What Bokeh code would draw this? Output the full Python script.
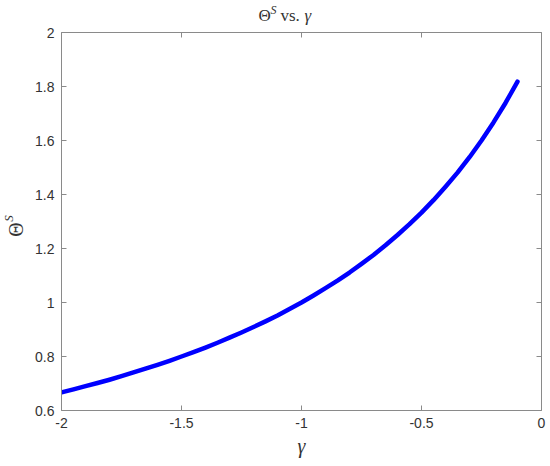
from bokeh.plotting import figure
from bokeh.layouts import column, row
from bokeh.models import LinearAxis, FixedTicker, Label, Range1d
from bokeh.embed import file_html
from bokeh.resources import INLINE

# values
gamma = [-2.0, -1.95, -1.9, -1.85, -1.8, -1.75, -1.7, -1.65, -1.6, -1.55,
         -1.5, -1.45, -1.4, -1.35, -1.3, -1.25, -1.2, -1.15, -1.1, -1.05,
         -1.0, -0.95, -0.9, -0.85, -0.8, -0.75, -0.7, -0.65, -0.6, -0.55,
         -0.5, -0.45, -0.4, -0.35, -0.3, -0.25, -0.2, -0.15, -0.1]
theta_s = [0.667, 0.678, 0.690, 0.702, 0.714, 0.727, 0.741, 0.755, 0.769, 0.784,
           0.800, 0.816, 0.833, 0.851, 0.870, 0.889, 0.909, 0.930, 0.952, 0.976,
           1.000, 1.026, 1.053, 1.081, 1.111, 1.143, 1.176, 1.212, 1.250, 1.290,
           1.333, 1.379, 1.429, 1.481, 1.538, 1.600, 1.667, 1.739, 1.818]

x_ticks = [-2, -1.5, -1, -0.5, 0]
x_tick_labels = ['-2', '-1.5', '-1', '-0.5', '0']
y_ticks = [0.6, 0.8, 1.0, 1.2, 1.4, 1.6, 1.8, 2.0]
y_tick_labels = ['0.6', '0.8', '1', '1.2', '1.4', '1.6', '1.8', '2']

axis_color = '#8a8a8a'
text_color = '#333333'
serif = 'Liberation Serif'

W, H = 550, 466
TITLE_H = 25
YLAB_W = 28

def blank_fig(w, h):
    f = figure(width=w, height=h, output_backend='svg', toolbar_location=None,
               x_range=Range1d(0, w), y_range=Range1d(0, h),
               x_axis_type=None, y_axis_type=None, min_border=0)
    f.grid.visible = False
    f.outline_line_color = None
    f.title.visible = False
    return f

def lab(f, text, x, y, size, style='normal', angle=0, align='left', base='alphabetic'):
    f.add_layout(Label(x=x, y=y, text=text, text_font=serif, text_font_size=size,
                       text_font_style=style, text_color=text_color, angle=angle,
                       text_align=align, text_baseline=base, text_line_height=1.0))

# title strip: Theta^S vs. gamma
title_fig = blank_fig(W, TITLE_H)
lab(title_fig, 'Θ', 258, 10, '17px')
lab(title_fig, 'S', 270, 16, '12px', style='italic')
lab(title_fig, 'vs.', 280, 10, '17px')
lab(title_fig, 'γ', 304, 10, '17px', style='italic')

# y label strip, rotated
main_h = H - TITLE_H
ylab_fig = blank_fig(YLAB_W, main_h)
lab(ylab_fig, 'Θ', 15, 211, '20px', angle=1.5708, align='center', base='middle')
lab(ylab_fig, 'S', 8, 224, '13px', style='italic', angle=1.5708, align='center', base='middle')

p = figure(width=W - YLAB_W, height=main_h, output_backend='svg', toolbar_location=None,
           x_range=Range1d(-2, 0), y_range=Range1d(0.6, 2),
           min_border_left=33, min_border_right=9, min_border_top=7, min_border_bottom=56)
p.title.visible = False
p.grid.visible = False
p.outline_line_color = None

p.line(gamma, theta_s, line_width=4.5, color='#0000ff', line_join='round', line_cap='round')

def style_axis(ax, ticks, labels, show_labels=True):
    ax.ticker = FixedTicker(ticks=ticks)
    ax.major_label_overrides = dict(zip(ticks, labels))
    ax.axis_line_color = axis_color
    ax.major_tick_line_color = axis_color
    ax.major_tick_in = 5
    ax.major_tick_out = 0
    ax.minor_tick_line_color = None
    ax.major_label_text_color = text_color
    ax.major_label_text_font = 'Liberation Sans'
    ax.major_label_text_font_size = '14px' if show_labels else '0px'
    ax.major_label_standoff = 7 if show_labels else 0

style_axis(p.xaxis[0], x_ticks, x_tick_labels)
style_axis(p.yaxis[0], y_ticks, y_tick_labels)
p.xaxis.axis_label = 'γ'
p.xaxis.axis_label_text_font = serif
p.xaxis.axis_label_text_font_style = 'italic'
p.xaxis.axis_label_text_font_size = '20px'
p.xaxis.axis_label_text_color = text_color
p.xaxis.axis_label_standoff = 4

top = LinearAxis()
style_axis(top, x_ticks, ['' for t in x_ticks], show_labels=False)
p.add_layout(top, 'above')
right = LinearAxis()
style_axis(right, y_ticks, ['' for t in y_ticks], show_labels=False)
p.add_layout(right, 'right')

layout = column(title_fig, row(ylab_fig, p))

open("out.html", "w").write(file_html(layout, INLINE))
